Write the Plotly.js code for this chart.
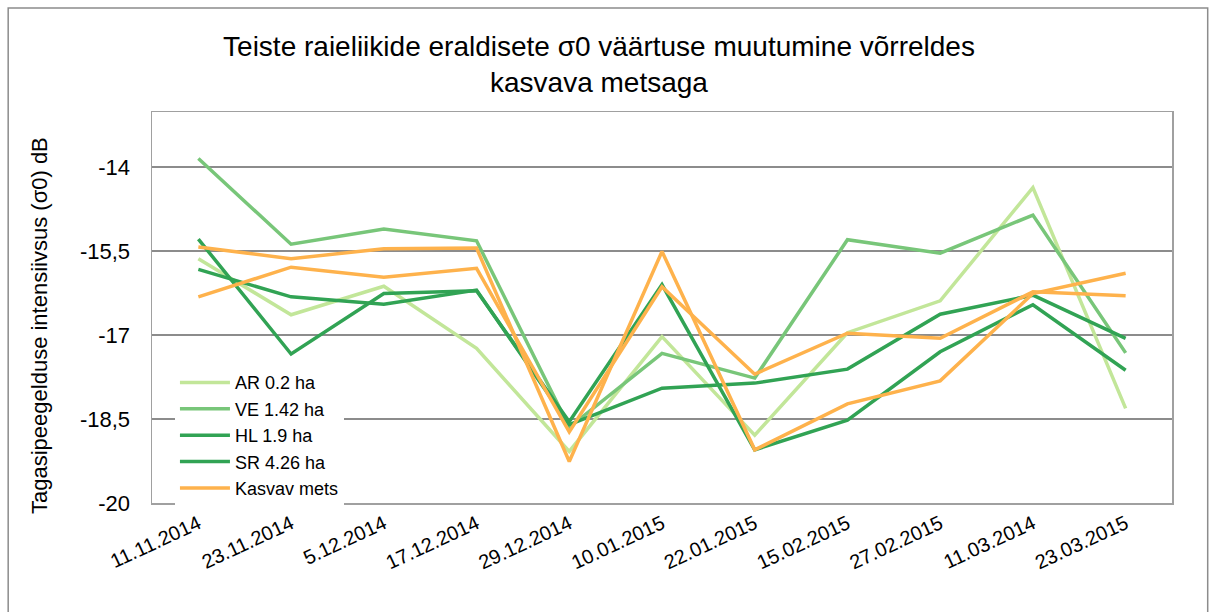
<!DOCTYPE html>
<html>
<head>
<meta charset="utf-8">
<script src="https://cdn.plot.ly/plotly-3.0.1.min.js"></script>
<style>html,body{margin:0;padding:0;background:#fff;}#chart{width:1216px;height:612px;}</style>
</head>
<body>
<div id="chart"></div>
<script>
const categories = ["11.11.2014","23.11.2014","5.12.2014","17.12.2014","29.12.2014","10.01.2015","22.01.2015","15.02.2015","27.02.2015","11.03.2014","23.03.2015"];
const AR = [-15.64,-16.64,-16.13,-17.24,-19.08,-17.03,-18.79,-16.96,-16.39,-14.37,-18.31];
const VE = [-13.85,-15.38,-15.11,-15.32,-18.65,-17.33,-17.77,-15.30,-15.54,-14.86,-17.32];
const HL = [-15.29,-17.34,-16.26,-16.21,-18.55,-16.10,-19.05,-18.52,-17.30,-16.46,-17.63];
const SR = [-15.83,-16.32,-16.45,-16.20,-18.60,-17.95,-17.86,-17.61,-16.63,-16.29,-17.06];
const kasvavMets = [-15.43,-15.64,-15.46,-15.45,-19.26,-15.51,-19.05,-18.23,-17.82,-16.26,-15.90];
const kasvavMets2 = [-16.32,-15.79,-15.97,-15.81,-18.73,-16.14,-17.70,-16.97,-17.06,-16.23,-16.30];
const yTickVals = [-14,-15.5,-17,-18.5,-20];
const yTickText = ["-14","-15,5","-17","-18,5","-20"];

const FONT = "Liberation Sans, Arial, sans-serif";
function tr(name, y, color, show){
  return {type:"scatter", mode:"lines", x:categories, y:y, name:name,
    line:{color:color, width:3.5}, showlegend:show, hoverinfo:"skip"};
}
const data = [
  tr("AR 0.2 ha", AR, "#c2e699", true),
  tr("VE 1.42 ha", VE, "#78c679", true),
  tr("HL 1.9 ha", HL, "#31a354", true),
  tr("SR 4.26 ha", SR, "#31a354", true),
  tr("Kasvav mets", kasvavMets, "#feb24c", true),
  tr("Kasvav mets", kasvavMets2, "#feb24c", false)
];
const layout = {
  width:1216, height:612,
  margin:{l:152, r:44, t:112, b:109},
  paper_bgcolor:"#fff", plot_bgcolor:"#fff",
  font:{family:FONT, color:"#000", size:19},
  title:{text:"Teiste raieliikide eraldisete σ0 väärtuse muutumine võrreldes<br>kasvava metsaga",
    x:0.4926, xref:"container", xanchor:"center", y:0.909, yref:"container", yanchor:"top",
    font:{family:FONT, size:28, color:"#000"}},
  xaxis:{type:"category", range:[-0.5,10.5], tickangle:-25, showgrid:false, zeroline:false,
    showline:true, mirror:true, linecolor:"#a0a0a0", linewidth:1.5,
    ticks:"", tickfont:{family:FONT, size:20, color:"#000"}, fixedrange:true},
  yaxis:{range:[-20,-13.02], tickvals:yTickVals, ticktext:yTickText,
    showgrid:true, gridcolor:"#8c8c8c", gridwidth:1.5, zeroline:false,
    showline:true, mirror:true, linecolor:"#a0a0a0", linewidth:1.5,
    ticks:"", ticklabelstandoff:16, tickfont:{family:FONT, size:22, color:"#000"}, fixedrange:true},
  legend:{x:0.0225, y:0.355, xanchor:"left", yanchor:"top", bgcolor:"#fff",
    font:{family:FONT, size:18, color:"#000"}, tracegroupgap:0, itemwidth:50},
  annotations:[{text:"Tagasipeegelduse intensiivsus (σ0) dB", textangle:-90,
    xref:"paper", yref:"paper", x:-0.1098, y:0.4527, showarrow:false,
    xanchor:"center", yanchor:"middle", font:{family:FONT, size:22, color:"#000"}}],
  shapes:[{type:"rect", xref:"paper", yref:"paper", x0:-0.141, x1:1.035, y0:-0.4, y1:1.266,
    line:{color:"#8c8c8c", width:1.5}, fillcolor:"rgba(0,0,0,0)", layer:"below"}]
};
Plotly.newPlot("chart", data, layout, {displayModeBar:false, staticPlot:true});
</script>
</body>
</html>
